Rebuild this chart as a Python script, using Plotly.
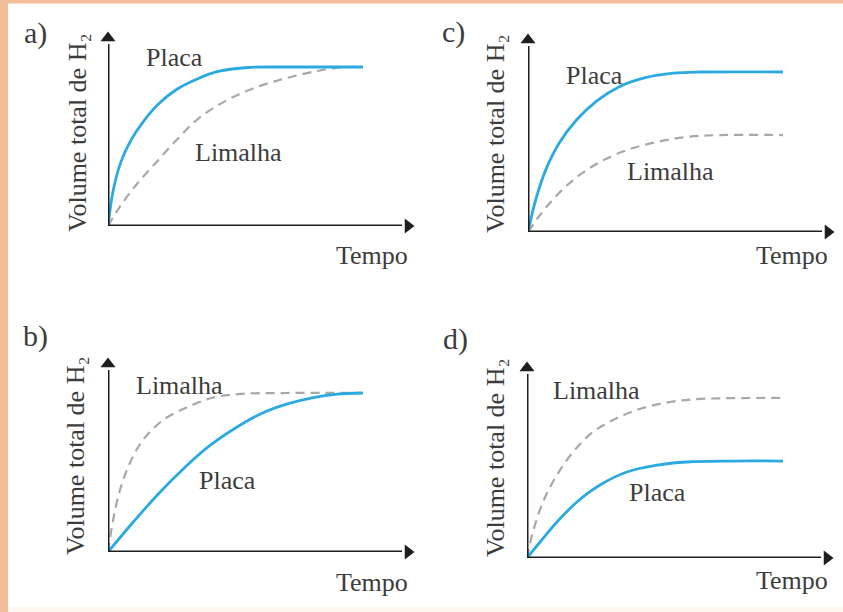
import plotly.graph_objects as go

W, H = 843, 612

# ---- data (normalised: x = time fraction, y = fraction of top plateau) ----
panels = ["a)", "b)", "c)", "d)"]

a_placa_x = [0, 0.02, 0.05, 0.09, 0.14, 0.2, 0.27, 0.35, 0.44, 0.55, 0.7, 1.0]
a_placa_y = [0, 0.22, 0.40, 0.54, 0.66, 0.77, 0.86, 0.925, 0.975, 0.997, 1.0, 1.0]
a_lim_x = [0, 0.043, 0.11, 0.189, 0.268, 0.358, 0.465, 0.583, 0.70, 0.82, 0.91, 1.0]
a_lim_y = [0, 0.113, 0.258, 0.40, 0.54, 0.68, 0.79, 0.874, 0.93, 0.975, 0.998, 1.0]

b_placa_x = [0, 0.1, 0.2, 0.3, 0.4, 0.5, 0.6, 0.7, 0.8, 0.9, 1.0]
b_placa_y = [0, 0.19, 0.37, 0.53, 0.67, 0.78, 0.87, 0.93, 0.97, 0.993, 1.0]
b_lim_x = [0, 0.02, 0.047, 0.086, 0.137, 0.216, 0.31, 0.41, 0.52, 0.7, 1.0]
b_lim_y = [0, 0.20, 0.39, 0.56, 0.704, 0.83, 0.91, 0.97, 0.994, 1.0, 1.0]

c_placa_x = [0, 0.03, 0.07, 0.12, 0.19, 0.27, 0.36, 0.46, 0.57, 0.68, 1.0]
c_placa_y = [0, 0.20, 0.39, 0.55, 0.70, 0.82, 0.91, 0.965, 0.993, 1.0, 1.0]
c_lim_x = [0, 0.047, 0.114, 0.192, 0.282, 0.388, 0.506, 0.624, 0.753, 1.0]
c_lim_y = [0, 0.106, 0.231, 0.344, 0.4375, 0.5125, 0.5625, 0.594, 0.606, 0.606]

d_placa_x = [0, 0.051, 0.117, 0.195, 0.285, 0.39, 0.508, 0.625, 0.8, 1.0]
d_placa_y = [0, 0.10, 0.225, 0.35, 0.456, 0.5375, 0.58, 0.60, 0.606, 0.606]
d_lim_x = [0, 0.023, 0.0625, 0.117, 0.18, 0.258, 0.352, 0.453, 0.559, 0.676, 1.0]
d_lim_y = [0, 0.1625, 0.35, 0.519, 0.6625, 0.7875, 0.875, 0.9375, 0.975, 0.994, 1.0]

series = {
    "a)": (a_placa_x, a_placa_y, a_lim_x, a_lim_y),
    "b)": (b_placa_x, b_placa_y, b_lim_x, b_lim_y),
    "c)": (c_placa_x, c_placa_y, c_lim_x, c_lim_y),
    "d)": (d_placa_x, d_placa_y, d_lim_x, d_lim_y),
}

# label positions in data units
placa_lbl = {"a)": (0.26, 1.06), "b)": (0.47, 0.45), "c)": (0.26, 0.98), "d)": (0.51, 0.41)}
lim_lbl = {"a)": (0.51, 0.46), "b)": (0.28, 1.05), "c)": (0.56, 0.38), "d)": (0.27, 1.05)}

# ---- layout geometry (pixels) ----
geom = {
    # origin x, origin y, px per x unit, px per y unit, x-arrow tip, y-arrow tip
    "a)": dict(ox=108, oy=226, ux=255, uy=159, tx=414, ty=32),
    "b)": dict(ox=108, oy=552, ux=255, uy=159, tx=414, ty=358),
    "c)": dict(ox=528, oy=232, ux=255, uy=160, tx=834, ty=34),
    "d)": dict(ox=527, oy=558, ux=256, uy=160, tx=833, ty=362),
}
panel_lbl_px = {"a)": (35, 33), "b)": (35, 336), "c)": (453, 32), "d)": (455, 339)}
ylab_px = {"a)": (77, 133), "b)": (75, 456), "c)": (495, 134), "d)": (495, 458)}
tempo_px = {"a)": (372, 255), "b)": (372, 582), "c)": (792, 255), "d)": (792, 580)}

BLUE = "#2AAAE1"
GRAY = "#A8A8A8"
AX = "#1E1E1E"
TXT = "#3C3C3C"
FONT = "Liberation Serif"
HEAD = 12  # arrow head length, px

fig = go.Figure()
layout = dict(
    width=W, height=H, margin=dict(l=0, r=0, t=0, b=0),
    paper_bgcolor="white", plot_bgcolor="rgba(0,0,0,0)", showlegend=False,
)
annotations = []
shapes = []

for i, p in enumerate(panels):
    g = geom[p]
    n = "" if i == 0 else str(i + 1)
    xr = [0, (g["tx"] - g["ox"]) / g["ux"]]
    yr = [0, (g["oy"] - g["ty"]) / g["uy"]]
    layout["xaxis" + n] = dict(domain=[g["ox"] / W, g["tx"] / W], range=xr, visible=False,
                               fixedrange=True, anchor="y" + n)
    layout["yaxis" + n] = dict(domain=[1 - g["oy"] / H, 1 - g["ty"] / H], range=yr, visible=False,
                               anchor="x" + n, fixedrange=True)
    px_, py_, lx, ly = series[p]
    fig.add_trace(go.Scatter(x=lx, y=ly, mode="lines", xaxis="x" + n, yaxis="y" + n,
                             line=dict(color=GRAY, width=2.2, dash="9px,6px", shape="spline", smoothing=1.0),
                             hoverinfo="skip"))
    fig.add_trace(go.Scatter(x=px_, y=py_, mode="lines", xaxis="x" + n, yaxis="y" + n,
                             line=dict(color=BLUE, width=2.8, shape="spline", smoothing=1.0),
                             hoverinfo="skip"))
    # axes with arrow heads
    hx = HEAD / g["ux"]
    hy = HEAD / g["uy"]
    fig.add_trace(go.Scatter(x=[xr[1] - hx, 0, 0], y=[0, 0, yr[1] - hy], mode="lines",
                             xaxis="x" + n, yaxis="y" + n, line=dict(color=AX, width=3),
                             hoverinfo="skip"))
    fig.add_trace(go.Scatter(x=[xr[1] - hx / 2], y=[0], mode="markers", xaxis="x" + n, yaxis="y" + n,
                             marker=dict(symbol="triangle-right", size=13, color=AX, line=dict(width=0)),
                             hoverinfo="skip", cliponaxis=False))
    fig.add_trace(go.Scatter(x=[0], y=[yr[1] - hy / 2], mode="markers", xaxis="x" + n, yaxis="y" + n,
                             marker=dict(symbol="triangle-up", size=13, color=AX, line=dict(width=0)),
                             hoverinfo="skip", cliponaxis=False))
    # curve labels
    annotations.append(dict(x=placa_lbl[p][0], y=placa_lbl[p][1], xref="x" + n, yref="y" + n,
                            text="Placa", showarrow=False, xanchor="center", yanchor="middle",
                            font=dict(family=FONT, size=26, color=TXT)))
    annotations.append(dict(x=lim_lbl[p][0], y=lim_lbl[p][1], xref="x" + n, yref="y" + n,
                            text="Limalha", showarrow=False, xanchor="center", yanchor="middle",
                            font=dict(family=FONT, size=26, color=TXT)))
    # panel letter
    annotations.append(dict(x=panel_lbl_px[p][0] / W, y=1 - panel_lbl_px[p][1] / H, xref="paper", yref="paper",
                            text=p, showarrow=False, xanchor="center", yanchor="middle",
                            font=dict(family=FONT, size=30, color=TXT)))
    # y label
    annotations.append(dict(x=ylab_px[p][0] / W, y=1 - ylab_px[p][1] / H, xref="paper", yref="paper",
                            text="Volume total de H₂", textangle=-90, showarrow=False,
                            xanchor="center", yanchor="middle",
                            font=dict(family=FONT, size=26, color=TXT)))
    # x label
    annotations.append(dict(x=tempo_px[p][0] / W, y=1 - tempo_px[p][1] / H, xref="paper", yref="paper",
                            text="Tempo", showarrow=False, xanchor="center", yanchor="middle",
                            font=dict(family=FONT, size=26, color=TXT)))

# decorative border
SALMON = "#F4BD99"
shapes.append(dict(type="rect", xref="paper", yref="paper", x0=0, x1=8 / W, y0=0, y1=1,
                   fillcolor=SALMON, line=dict(width=0), layer="below"))
shapes.append(dict(type="rect", xref="paper", yref="paper", x0=0, x1=1, y0=1 - 3.5 / H, y1=1,
                   fillcolor=SALMON, line=dict(width=0), layer="below"))
shapes.append(dict(type="rect", xref="paper", yref="paper", x0=8 / W, x1=1, y0=0, y1=5 / H,
                   fillcolor="#FFF8EF", line=dict(width=0), layer="below"))

layout["annotations"] = annotations
layout["shapes"] = shapes
fig.update_layout(**layout)
fig.write_html("out.html", config={"displayModeBar": False},
               post_script="document.body.style.margin='0px';document.body.style.overflow='hidden';")
